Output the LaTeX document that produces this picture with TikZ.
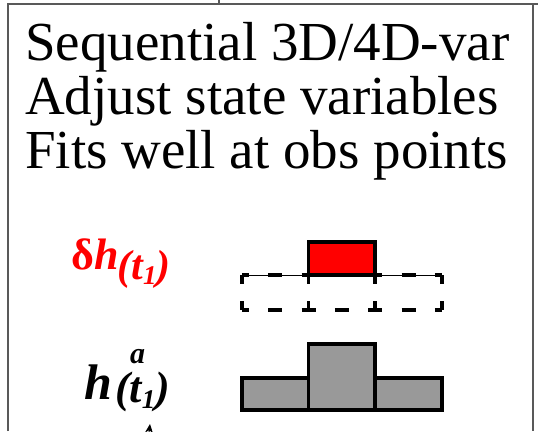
\documentclass[tikz,border=0pt]{standalone}
\usepackage{fontspec}
\setmainfont{Liberation Serif}
\usepackage{tikz}
\usetikzlibrary{arrows.meta}

\tikzset{
  frameline/.style={draw=black!65,line width=1.3pt},
  bigtext/.style={anchor=base west,inner sep=0pt,font=\fontsize{55}{54}\selectfont},
  bar/.style={draw=black,line width=3.2pt,fill=black!40},
  incr/.style={draw=black,line width=3.2pt,fill=red},
  dashrow/.style={line width=3.2pt,dash pattern=on 14pt off 19.33pt,dash phase=7pt},
  dashcol/.style={line width=3.2pt,dash pattern=on 9pt off 17pt}
}

\begin{document}
\begin{tikzpicture}[x=1pt,y=-1pt]
\useasboundingbox (0,0) rectangle (538,431);
\clip (0,0) rectangle (538,431);
% frame
\draw[frameline] (219,0) -- (219,4);
\draw[frameline] (8,431) -- (8,4) -- (538,4);
\draw[frameline] (533,4) -- (533,431);
% text
\node[bigtext] (line1) at (25,60) {Sequential 3D/4D-var};
\node[bigtext] (line2) at (25,114) {Adjust state variables};
\node[bigtext] (line3) at (25,168) {Fits well at obs points};
% labels
\node[anchor=base west,inner sep=0pt,text=red,font=\fontsize{44}{44}\selectfont\bfseries] (dlabel) at (71,269)
  {δ\textit{h}\hspace{-1pt}\raisebox{-10pt}{\fontsize{42}{42}\selectfont\textit{(t\raisebox{-5pt}{\fontsize{27}{27}\selectfont 1})}}};
\node[anchor=base west,inner sep=0pt,font=\fontsize{50}{50}\selectfont\bfseries\itshape] (alabel) at (84,399)
  {h\rlap{\hspace{18pt}\raisebox{36pt}{\fontsize{30}{30}\selectfont a}}\hspace{3pt}\raisebox{-3pt}{\fontsize{44}{44}\selectfont (t\raisebox{-6pt}{\fontsize{27}{27}\selectfont 1})}};
% increment
\draw[incr] (308.5,242) rectangle (375,275);
\draw[dashrow] (242,275) -- (442,275);
\draw[dashrow] (242,310) -- (442,310);
\foreach \x in {242,308.5,375,442}
  \draw[dashcol] (\x,275) -- (\x,310);
\draw[line width=0.8pt] (242,275) -- (442,275);
% analysis
\draw[bar] (242,378) rectangle (308.5,410);
\draw[bar] (375,378) rectangle (442,410);
\draw[bar] (308.5,344) rectangle (375,410);
% arrow at bottom
\coordinate (arrowtail) at (146,460);
\coordinate (arrowtip) at (150,424);
\draw[-{Stealth[length=9pt,width=8pt]},line width=1pt] (arrowtail) -- (arrowtip);
\end{tikzpicture}
\end{document}
